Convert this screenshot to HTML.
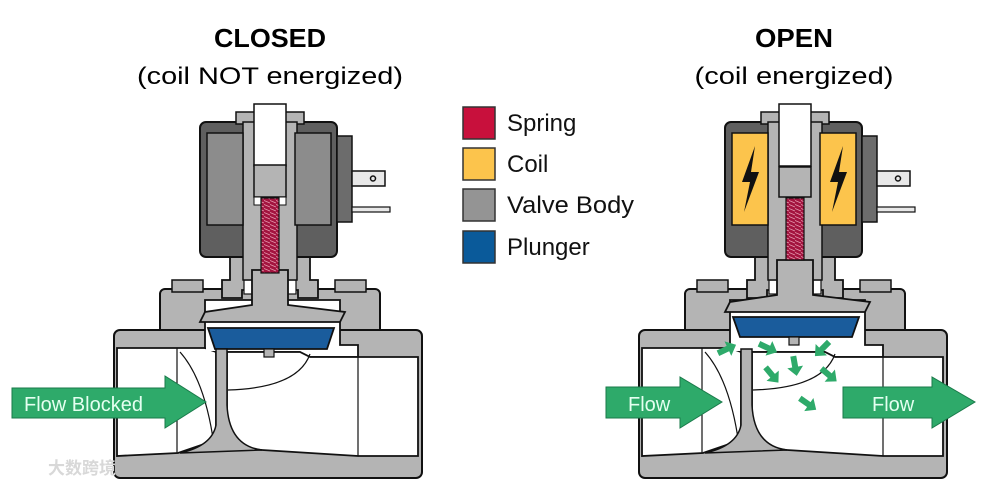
<!DOCTYPE html>
<html><head><meta charset="utf-8"><style>
html,body{margin:0;padding:0;background:#fff;}
svg{display:block;}
text{font-family:"Liberation Sans","Noto Sans CJK SC",sans-serif;}
</style></head><body>
<svg width="994" height="487" viewBox="0 0 994 487" xmlns="http://www.w3.org/2000/svg">
<defs>
<pattern id="spr" width="6" height="4" patternUnits="userSpaceOnUse">
<rect width="6" height="4" fill="#a3143f"/><line x1="0" y1="0.5" x2="6" y2="3" stroke="#e8a0b4" stroke-width="0.8"/>
</pattern>
<g id="sa"><path d="M-10,-3 L1,-3 L1,-8 L10,0 L1,8 L1,3 L-10,3 Z" fill="#2eaa6a"/></g>
<g id="valve">
 <rect x="160" y="289" width="220" height="50" rx="5" fill="#b4b4b4" stroke="#111" stroke-width="2"/>
 <rect x="114" y="330" width="308" height="148" rx="6" fill="#b4b4b4" stroke="#111" stroke-width="2"/>
 <rect x="172" y="280" width="31" height="12" fill="#b4b4b4" stroke="#111" stroke-width="1.5"/>
 <rect x="335" y="280" width="31" height="12" fill="#b4b4b4" stroke="#111" stroke-width="1.5"/>
 <path d="M117,348 L216,348 L216,440 L178,453 L117,456 Z" fill="#fff" stroke="#111" stroke-width="1.8"/>
 <line x1="177" y1="348" x2="177" y2="453" stroke="#111" stroke-width="1.2"/>
 <path d="M205,300 L340,300 L340,345 L358,345 L358,357 L310,357 L300,352 L227,352 L216,352 L205,348 Z" fill="#fff" stroke="#111" stroke-width="1.8"/>
 <path d="M227,352 L300,352 L310,357 L418,357 L418,456 L358,456 L262,450 Q230,448 227,420 Z" fill="#fff" stroke="#111" stroke-width="1.8"/>
 <rect x="206" y="301" width="133" height="50" fill="#fff"/>
 <line x1="358" y1="357" x2="358" y2="456" stroke="#111" stroke-width="1.2"/>
 <path d="M180,352 Q205,380 214,445" fill="none" stroke="#111" stroke-width="1.2"/>
 <path d="M228,390 Q298,388 310,354" fill="none" stroke="#111" stroke-width="1.2"/>
 <path d="M230,257 L310,257 L310,280 L318,280 L318,298 L298,298 L298,290 L242,290 L242,298 L222,298 L222,280 L230,280 Z" fill="#b4b4b4" stroke="#111" stroke-width="1.8"/>
 <rect x="244" y="280" width="52" height="14" fill="#fff" stroke="#111" stroke-width="1.2"/>
 <rect x="200" y="122" width="137" height="135" rx="6" fill="#5f5f5f" stroke="#111" stroke-width="2"/>
 <rect x="337" y="136" width="15" height="86" fill="#6c6c6c" stroke="#111" stroke-width="1.5"/>
 <rect x="352" y="171" width="33" height="15" fill="#e8e8e8" stroke="#111" stroke-width="1.5"/>
 <circle cx="373" cy="178.5" r="2.5" fill="none" stroke="#111" stroke-width="1.5"/>
 <rect x="352" y="207" width="38" height="5" fill="#e8e8e8" stroke="#111" stroke-width="1.2"/>
 <rect x="236" y="112" width="68" height="12" fill="#b4b4b4" stroke="#111" stroke-width="1.5"/>
 <rect x="243" y="122" width="54" height="158" fill="#b4b4b4" stroke="#111" stroke-width="1.5"/>
 <rect x="254" y="104" width="32" height="62" fill="#fff" stroke="#111" stroke-width="1.5"/>
</g>
<g id="stem">
 <path d="M252,270 L288,270 L288,305 L345,312 L340,322 L200,322 L205,312 L252,305 Z" fill="#b4b4b4" stroke="#111" stroke-width="1.8"/>
</g>
<g id="post">
 <path d="M216,349 L227,349 L227,405 Q229,446 262,450 L180,453 Q212,446 216,425 Z" fill="#b4b4b4" stroke="#111" stroke-width="1.5"/>
</g>
</defs>

<text x="270" y="47" font-size="26" font-weight="bold" text-anchor="middle" textLength="112" lengthAdjust="spacingAndGlyphs">CLOSED</text>
<text x="270" y="84" font-size="24" text-anchor="middle" textLength="266" lengthAdjust="spacingAndGlyphs">(coil NOT energized)</text>
<text x="794" y="47" font-size="26" font-weight="bold" text-anchor="middle" textLength="78" lengthAdjust="spacingAndGlyphs">OPEN</text>
<text x="794" y="84" font-size="24" text-anchor="middle" textLength="199" lengthAdjust="spacingAndGlyphs">(coil energized)</text>

<rect x="463" y="107" width="32" height="32" fill="#c8103c" stroke="#333" stroke-width="1.5"/>
<rect x="463" y="148" width="32" height="32" fill="#fcc44c" stroke="#333" stroke-width="1.5"/>
<rect x="463" y="189" width="32" height="32" fill="#949494" stroke="#333" stroke-width="1.5"/>
<rect x="463" y="231" width="32" height="32" fill="#0a5a9a" stroke="#333" stroke-width="1.5"/>
<text x="507" y="131" font-size="24" fill="#111">Spring</text>
<text x="507" y="172" font-size="24" fill="#111">Coil</text>
<text x="507" y="213" font-size="24" fill="#111" textLength="127" lengthAdjust="spacingAndGlyphs">Valve Body</text>
<text x="507" y="255" font-size="24" fill="#111">Plunger</text>

<use href="#valve"/>
<rect x="207" y="133" width="36" height="92" fill="#8c8c8c" stroke="#111" stroke-width="1.5"/>
<rect x="295" y="133" width="36" height="92" fill="#8c8c8c" stroke="#111" stroke-width="1.5"/>
<rect x="254" y="165" width="32" height="32" fill="#b4b4b4" stroke="#111" stroke-width="1.5"/>
<rect x="254" y="197" width="32" height="8" fill="#fff" stroke="#111" stroke-width="1"/>
<use href="#stem"/>
<rect x="261" y="198" width="18" height="75" fill="url(#spr)" stroke="#111" stroke-width="1.2"/>
<path d="M208,328 L334,328 L327,349 L215,349 Z" fill="#1a5c9c" stroke="#111" stroke-width="1.8"/>
<rect x="264" y="349" width="10" height="8" fill="#b4b4b4" stroke="#111" stroke-width="1.2"/>
<use href="#post"/>
<path d="M12,388 L165,388 L165,376 L206,402 L165,428 L165,418 L12,418 Z" fill="#2eaa6a" stroke="#1a7a4a" stroke-width="1"/>
<text x="24" y="411" font-size="20" fill="#e4fff0">Flow Blocked</text>

<g transform="translate(525,0)">
<use href="#valve"/>
<rect x="207" y="133" width="36" height="92" fill="#fcc44c" stroke="#111" stroke-width="1.5"/>
<rect x="295" y="133" width="36" height="92" fill="#fcc44c" stroke="#111" stroke-width="1.5"/>
<path d="M230,146 L217,182 L225,182 L219,212 L234,172 L226,172 Z" fill="#111"/>
<path d="M318,146 L305,182 L313,182 L307,212 L322,172 L314,172 Z" fill="#111"/>
<rect x="254" y="167" width="32" height="30" fill="#b4b4b4" stroke="#111" stroke-width="1.5"/>
<g transform="translate(0,-10)"><use href="#stem"/></g>
<rect x="261" y="198" width="18" height="62" fill="url(#spr)" stroke="#111" stroke-width="1.2"/>
<path d="M208,317 L334,317 L327,337 L215,337 Z" fill="#1a5c9c" stroke="#111" stroke-width="1.8"/>
<rect x="264" y="337" width="10" height="8" fill="#b4b4b4" stroke="#111" stroke-width="1.2"/>
<use href="#post"/>
</g>
<use href="#sa" transform="translate(727,349) rotate(-25)"/>
<use href="#sa" transform="translate(768,348) rotate(25)"/>
<use href="#sa" transform="translate(822,349) rotate(135)"/>
<use href="#sa" transform="translate(795,366) rotate(80)"/>
<use href="#sa" transform="translate(772,375) rotate(50)"/>
<use href="#sa" transform="translate(829,375) rotate(40)"/>
<use href="#sa" transform="translate(808,404) rotate(35)"/>
<path d="M606,387 L680,387 L680,377 L722,402 L680,428 L680,418 L606,418 Z" fill="#2eaa6a" stroke="#1a7a4a" stroke-width="1"/>
<text x="628" y="411" font-size="20" fill="#e4fff0">Flow</text>
<path d="M843,387 L932,387 L932,377 L975,402 L932,428 L932,418 L843,418 Z" fill="#2eaa6a" stroke="#1a7a4a" stroke-width="1"/>
<text x="872" y="411" font-size="20" fill="#e4fff0">Flow</text>

<text x="48" y="474" font-size="17" fill="#d8d8d8" font-weight="bold">大数跨境</text>
</svg>
</body></html>
